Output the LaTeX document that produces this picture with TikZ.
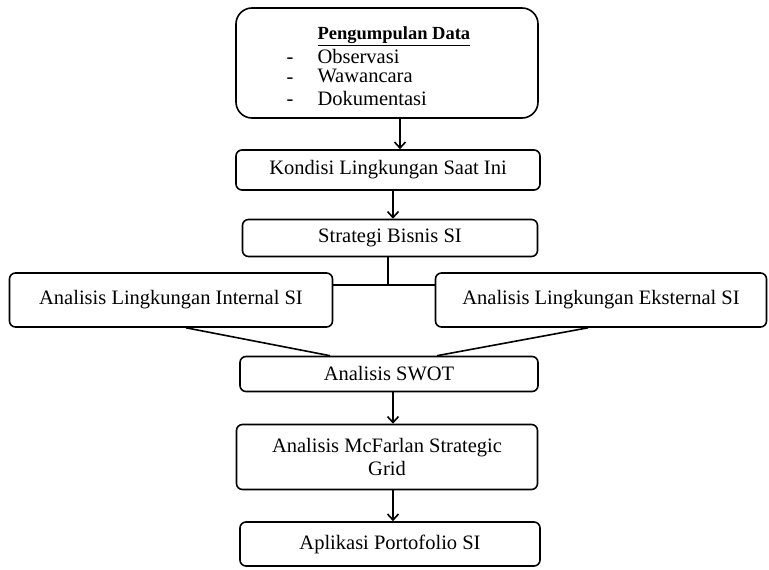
\documentclass[tikz,border=0pt]{standalone}
\usepackage{fontspec}
\setmainfont{Liberation Serif}
\usetikzlibrary{arrows.meta,positioning,calc}
\tikzset{
  box/.style={draw,line width=1.6pt,rounded corners=6pt,align=center,inner sep=2pt},
  arr/.style={line width=1.6pt,-{Straight Barb[length=6pt,width=11pt,line width=1.6pt]}},
  conn/.style={line width=1.6pt}
}
\begin{document}
\begin{tikzpicture}[x=1pt,y=-1pt,font=\fontsize{20.5}{23}\selectfont]
  \useasboundingbox (0,0) rectangle (769,570);
  % Data collection
  \node[box,rounded corners=16pt,minimum width=302pt,minimum height=110pt] (data) at (387,63) {};
  \node[anchor=west,font=\fontsize{18.5}{20}\selectfont\bfseries] (judul) at (314,36) {\underline{Pengumpulan Data}};
  \node[anchor=west] (obs) at (314,56) {Observasi};
  \node[anchor=west] (waw) at (314,76) {Wawancara};
  \node[anchor=west] (dok) at (314,98) {Dokumentasi};
  \node (d1) at (290,61) {-};
  \node (d2) at (290,81) {-};
  \node (d3) at (290,103) {-};

  % Main flow
  \node[box,minimum width=304pt,minimum height=40pt] (kondisi) at (388,170) {Kondisi Lingkungan Saat Ini};
  \node[box,minimum width=295pt,minimum height=37pt] (strategi) at (390,238) {Strategi Bisnis SI};
  \node[box,minimum width=323pt,minimum height=54pt] (internal) at (171,300) {Analisis Lingkungan Internal SI};
  \node[box,minimum width=331pt,minimum height=54pt] (eksternal) at (601,300) {Analisis Lingkungan Eksternal SI};
  \node[box,minimum width=298pt,minimum height=35pt] (swot) at (389,374) {Analisis SWOT};
  \node[box,minimum width=301pt,minimum height=65pt] (mcfarlan) at (387,457) {Analisis McFarlan Strategic\\Grid};
  \node[box,minimum width=300pt,minimum height=44pt] (aplikasi) at (390,544) {Aplikasi Portofolio SI};

  % Connectors
  \draw[arr] ([xshift=13pt]data.south) -- ([xshift=13pt]data.south |- kondisi.north);
  \draw[arr] ([xshift=5pt]kondisi.south) -- ([xshift=5pt]kondisi.south |- strategi.north);
  \coordinate (kiri) at ([yshift=15pt]internal.east);
  \coordinate (kanan) at ([yshift=15pt]eksternal.west);
  \draw[conn] (kiri) -- (kanan);
  \draw[conn] ([xshift=-2pt]strategi.south) -- ([xshift=-2pt]strategi.south |- kiri);
  \draw[conn] ([xshift=15pt]internal.south) -- ([xshift=-59pt]swot.north);
  \draw[conn] ([xshift=-13pt]eksternal.south) -- ([xshift=48pt]swot.north);
  \draw[arr] ([xshift=4pt]swot.south) -- ([xshift=4pt]swot.south |- mcfarlan.north);
  \draw[arr] ([xshift=6pt]mcfarlan.south) -- ([xshift=6pt]mcfarlan.south |- aplikasi.north);
\end{tikzpicture}
\end{document}
